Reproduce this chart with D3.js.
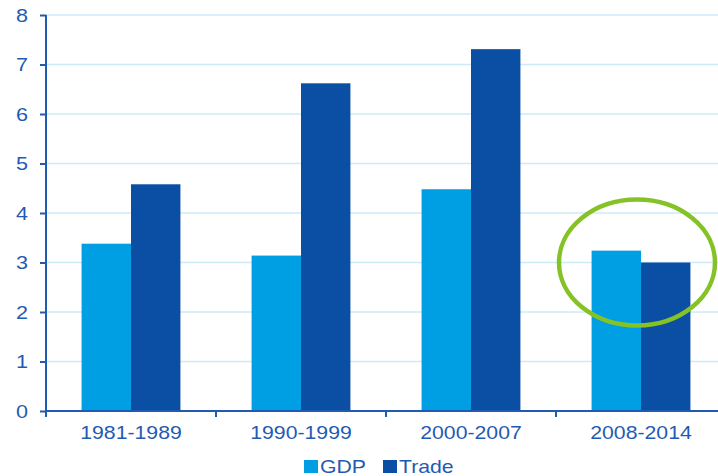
<!DOCTYPE html>
<html lang="en">
<head>
    <meta charset="UTF-8">
    <title>GDP and trade growth</title>
    <style>
        body { margin: 0; background: #fff; }
        svg text { font-family: "Liberation Sans", Arial, sans-serif; fill: #1f5bb3; }
    </style>
</head>
<body>
    <div id="chart"></div>
    <script src="https://d3js.org/d3.v7.min.js"></script>
    <script>
        // average annual growth, per cent
        const periods = ["1981-1989", "1990-1999", "2000-2007", "2008-2014"];
        const seriesNames = ["GDP", "Trade"];
        const gdp = [3.38, 3.14, 4.48, 3.24];
        const trade = [4.58, 6.62, 7.31, 3.00];
        const yTicks = [0, 1, 2, 3, 4, 5, 6, 7, 8];
        const colors = ["#009fe3", "#0a4fa3"];

        const width = 718, height = 476;
        const margin = {top: 15, left: 46, bottom: 65};
        const axisColor = "#1f5bb3";

        const svg = d3.select("#chart")
            .append("svg")
            .attr("width", width)
            .attr("height", height);

        const x = d3.scaleBand()
            .domain(periods)
            .range([margin.left, margin.left + 680])
            .paddingInner(0)
            .paddingOuter(0);

        const xInner = d3.scaleBand()
            .domain(seriesNames)
            .range([0, x.bandwidth()])
            .paddingInner(0)
            .paddingOuter(0.72);

        const y = d3.scaleLinear()
            .domain([0, 8])
            .range([height - margin.bottom, margin.top]);

        // gridlines
        svg.append("g")
            .selectAll("line")
            .data(yTicks.slice(1))
            .enter()
            .append("line")
            .attr("x1", margin.left)
            .attr("x2", width)
            .attr("y1", d => y(d))
            .attr("y2", d => y(d))
            .style("stroke", "#cdeaf8")
            .style("stroke-width", 1.3);

        const rows = periods.map((p, i) => ({period: p, values: [gdp[i], trade[i]]}));

        const group = svg.selectAll(".grp")
            .data(rows)
            .enter()
            .append("g")
            .attr("class", "grp")
            .attr("transform", d => `translate(${x(d.period)},0)`);

        group.selectAll("rect")
            .data(d => d.values.map((v, j) => ({name: seriesNames[j], value: v, j: j})))
            .enter()
            .append("rect")
            .attr("x", d => xInner(d.name))
            .attr("width", xInner.bandwidth())
            .attr("y", d => y(d.value))
            .attr("height", d => y(0) - y(d.value))
            .style("fill", d => colors[d.j]);

        // y axis
        const yAxis = svg.append("g")
            .attr("transform", `translate(${margin.left},0)`)
            .call(d3.axisLeft(y).tickValues(yTicks).tickSize(6).tickPadding(0).tickFormat(d3.format("d")));
        yAxis.select(".domain").remove();
        yAxis.selectAll(".tick line").style("stroke", axisColor).style("stroke-width", 2);
        yAxis.selectAll(".tick text").remove();
        yAxis.selectAll(".tick")
            .append("text")
            .attr("transform", "translate(-18,6) scale(1.2,1)")
            .attr("text-anchor", "end")
            .style("font-size", "18px")
            .text(d => d);
        svg.append("line")
            .attr("x1", margin.left).attr("x2", margin.left)
            .attr("y1", y(8)).attr("y2", y(0) + 6)
            .style("stroke", axisColor).style("stroke-width", 2);

        // x axis
        svg.append("line")
            .attr("x1", margin.left).attr("x2", width)
            .attr("y1", y(0)).attr("y2", y(0))
            .style("stroke", axisColor).style("stroke-width", 2);
        svg.append("g")
            .selectAll("line")
            .data(periods)
            .enter()
            .append("line")
            .attr("x1", d => x(d)).attr("x2", d => x(d))
            .attr("y1", y(0)).attr("y2", y(0) + 6)
            .style("stroke", axisColor).style("stroke-width", 2);
        svg.append("g")
            .selectAll("text")
            .data(periods)
            .enter()
            .append("text")
            .attr("transform", d => `translate(${x(d) + x.bandwidth() / 2},${y(0) + 28}) scale(1.18,1)`)
            .attr("text-anchor", "middle")
            .style("font-size", "18px")
            .text(d => d);

        // highlight circle
        const last = periods[periods.length - 1];
        svg.append("ellipse")
            .attr("cx", x(last) + x.bandwidth() / 2 - 4)
            .attr("cy", y(3))
            .attr("rx", 78)
            .attr("ry", 63)
            .style("fill", "none")
            .style("stroke", "#85c226")
            .style("stroke-width", 4.5);

        // legend
        const legendX = [304, 383];
        const legend = svg.append("g")
            .selectAll("g")
            .data(seriesNames)
            .enter()
            .append("g")
            .attr("transform", (d, i) => `translate(${legendX[i]},460)`);
        legend.append("rect")
            .attr("width", 14)
            .attr("height", 13)
            .style("fill", (d, i) => colors[i]);
        legend.append("text")
            .attr("transform", "translate(16,13) scale(1.18,1)")
            .style("font-size", "18px")
            .text(d => d);
    </script>
</body>
</html>
